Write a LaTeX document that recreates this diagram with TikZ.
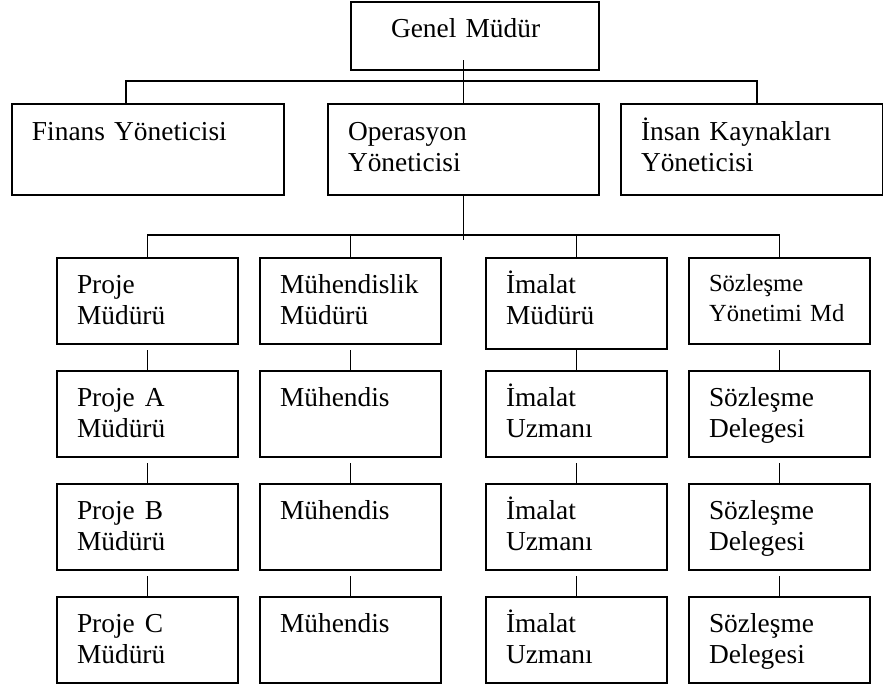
\documentclass[tikz,border=0pt]{standalone}
\usepackage{fontspec}
\setmainfont{Liberation Serif}
\begin{document}
\begin{tikzpicture}[x=0.5pt, y=-0.5pt, line width=0.75pt, line join=miter,
	kutu/.style={draw, line width=1pt, anchor=north west, inner ysep=0pt, inner xsep=10pt, align=left, font=\fontsize{13.7}{15.75}\selectfont},
	ust/.style={kutu, text height=18pt, text depth=27.5pt}, % 2. kademe
	alt/.style={kutu, text width=70.5pt, text height=17.5pt, text depth=25.5pt}] % 3. kademe
	\def\ya{257} \def\yb{370} \def\yc{483} \def\yd{596} % satır üstleri (px)
	\useasboundingbox (0,0) rectangle (883,687);
	\node[kutu, inner xsep=20pt, text width=84pt, text height=17.5pt, text depth=16.5pt] (gm) at (350,1) {Genel Müdür};
	\node[ust, text width=116pt] (fin) at (11,103) {Finans Yöneticisi};
	\node[ust, text width=115.5pt] (ops) at (327,103) {Operasyon\\Yöneticisi};
	\node[ust, text width=111pt] (ik) at (620,103) {İnsan Kaynakları\\Yöneticisi};
	% birinci satır
	\node[alt] (p1) at (56,\ya) {Proje\\Müdürü};
	\node[alt] (m1) at (259,\ya) {Mühendislik\\Müdürü};
	\node[alt, text depth=28pt] (i1) at (485,\ya) {İmalat\\Müdürü};
	\node[alt, font=\fontsize{12.3}{15}\selectfont, text height=16.5pt, text depth=26.5pt] (s1) at (688,\ya) {Sözleşme\\Yönetimi Md};
	% alt satırlar
	\foreach \y/\i/\h in {\yb/2/A,\yc/3/B,\yd/4/C}{
		\node[alt] (p\i) at (56,\y) {Proje\hspace{5pt}\h\\Müdürü};
		\node[alt] (m\i) at (259,\y) {Mühendis};
		\node[alt] (i\i) at (485,\y) {İmalat\\Uzmanı};
		\node[alt] (s\i) at (688,\y) {Sözleşme\\Delegesi};
	}
	% bağlantılar
	\draw[shorten <=-5.5pt] (ops.north |- gm.south) -- (ops.north);
	\draw ([xshift=-11pt]fin.north) |- ([yshift=11pt]ops.north) -| ([xshift=2.5pt]ik.north);
	\draw (ops.south) -- ++(0,44);
	\draw (p1.north) -- ++(0,-22) -| (s1.north);
	\foreach \k in {m1,i1} \draw (\k.north) -- ++(0,-22);
	\foreach \k/\a/\b in {p/1/2,p/2/3,p/3/4,m/1/2,m/2/3,m/3/4,i/2/3,i/3/4,s/1/2,s/2/3,s/3/4}
	\draw[shorten <=2.5pt] (\k\a.south) -- (\k\b.north);
	\draw (i1.south) -- (i2.north);
\end{tikzpicture}
\end{document}
